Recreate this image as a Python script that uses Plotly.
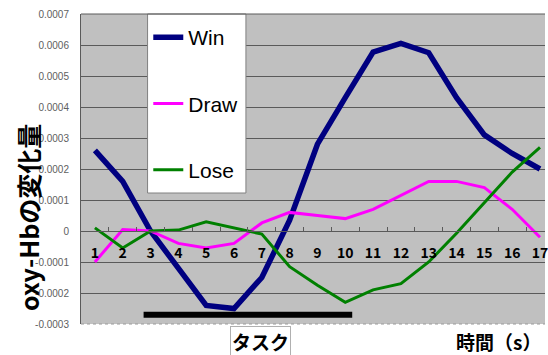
import plotly.graph_objects as go

# Time points (seconds) and oxy-Hb change per condition
time_s = [str(i) for i in range(1, 18)]
win = [0.00026, 0.00016, 0.0, -0.00012, -0.00024, -0.00025, -0.00015, 0.000035,
       0.00028, 0.00043, 0.000577, 0.000605, 0.000575, 0.00043, 0.00031, 0.00025, 0.0002]
draw = [-0.0001, 0.000005, 0.0, -0.00004, -0.000055, -0.00004, 0.000026, 0.00006,
        0.00005, 0.00004, 0.00007, 0.000115, 0.00016, 0.00016, 0.00014, 0.00007, -0.00002]
lose = [0.00001, -0.000055, 0.0, 0.000003, 0.00003, 0.00001, -0.00001, -0.000115,
        -0.000175, -0.00023, -0.00019, -0.00017, -0.0001, -0.000007, 0.00009, 0.00019, 0.00027]

# Task period (seconds) and the level at which it is marked
task_start, task_end, task_level = 2.75, 10.25, -0.00027

y_ticks = [-0.0003, -0.0002, -0.0001, 0, 0.0001, 0.0002, 0.0003, 0.0004, 0.0005, 0.0006, 0.0007]
y_tick_text = ["-0.0003", "-0.0002", "-0.0001", "0", "0.0001", "0.0002",
               "0.0003", "0.0004", "0.0005", "0.0006", "0.0007"]

series = [("Win", win, "#000080", 5.5), ("Draw", draw, "#FF00FF", 3), ("Lose", lose, "#008000", 3)]

fig = go.Figure()
for name, vals, color, width in series:
    fig.add_trace(go.Scatter(x=time_s, y=vals, name=name, mode="lines",
                             legendgroup=name,
                             line=dict(color=color, width=width)))

grid = "#5a5a5a"
fig.update_layout(
    width=548, height=355,
    margin=dict(l=81, r=0, t=14, b=31),
    paper_bgcolor="white",
    plot_bgcolor="#C0C0C0",
    showlegend=True,
    legend=dict(x=0.145, y=0.711, xanchor="left", yanchor="middle",
                bgcolor="rgba(0,0,0,0)", borderwidth=0,
                tracegroupgap=36,
                font=dict(family="Liberation Sans, Arial", size=21, color="black")),
    xaxis=dict(type="category", range=[-0.5, 16.18],
               anchor="free", position=0.3,
               showgrid=False, showline=True, linecolor=grid, linewidth=1,
               tickson="boundaries", ticks="inside", ticklen=4, tickcolor=grid,
               ticklabelstandoff=9,
               tickfont=dict(family="Noto Sans CJK JP", size=14, color="black", weight="bold")),
    yaxis=dict(range=[-0.0003, 0.0007], tickvals=y_ticks, ticktext=y_tick_text,
               showgrid=True, gridcolor=grid, gridwidth=1,
               zeroline=True, zerolinecolor=grid, zerolinewidth=1,
               showline=True, linecolor=grid, linewidth=1,
               ticks="", ticklabelstandoff=9,
               tickfont=dict(family="Liberation Sans, Arial", size=10, color="#606060")),
    shapes=[
        # legend panel
        dict(type="rect", xref="paper", yref="paper",
             x0=(148 - 81) / 467, x1=(247 - 81) / 467, y0=(324 - 193) / 310, y1=1.0,
             fillcolor="white", line=dict(color="#808080", width=1), layer="above"),
        # top border
        dict(type="line", xref="paper", yref="paper", x0=0, x1=1, y0=1, y1=1,
             line=dict(color=grid, width=1)),
        # bottom border
        dict(type="line", xref="paper", yref="paper", x0=0, x1=1, y0=0, y1=0,
             line=dict(color="#9a9a9a", width=1, dash="dot")),
        # task period bar (category index = seconds - 1)
        dict(type="line", xref="x", yref="y",
             x0=task_start - 1, x1=task_end - 1, y0=task_level, y1=task_level,
             line=dict(color="black", width=6)),
    ],
    annotations=[
        dict(text="oxy-Hbの変化量", xref="paper", yref="paper", x=-0.114, y=0.342,
             textangle=-90, showarrow=False, xanchor="center", yanchor="middle",
             font=dict(family="Noto Sans CJK JP", size=25, color="black", weight="bold")),
        dict(text="タスク", xref="paper", yref="paper", x=0.3876, y=-0.058,
             showarrow=False, xanchor="center", yanchor="middle",
             bgcolor="white", bordercolor="#b0b0b0", borderwidth=1, borderpad=1,
             font=dict(family="Noto Sans CJK JP", size=19, color="black", weight="bold")),
        dict(text="時間（s）", xref="paper", yref="paper", x=0.90, y=-0.058,
             showarrow=False, xanchor="center", yanchor="middle",
             font=dict(family="Noto Sans CJK JP", size=19, color="black", weight="bold")),
    ],
)

fig.write_html("out.html")
